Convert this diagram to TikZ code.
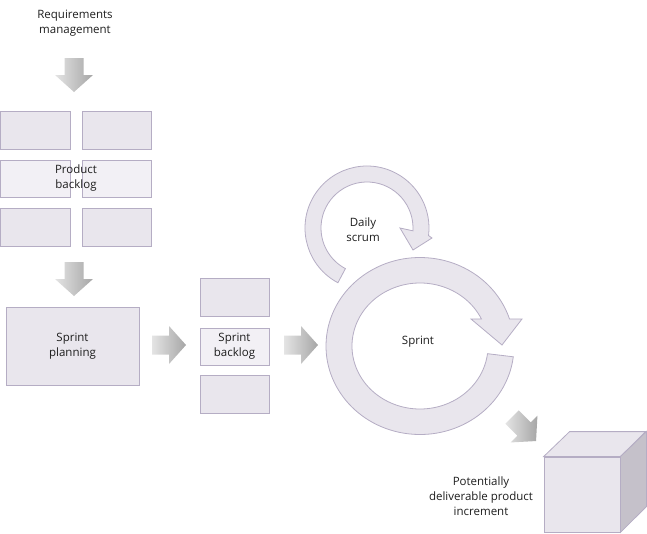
\documentclass[tikz,border=0pt]{standalone}
\usepackage{fontspec}
\setmainfont{Open Sans}
\usetikzlibrary{positioning,calc}

\definecolor{boxfill}{RGB}{233,230,237}
\definecolor{boxlight}{RGB}{242,240,245}
\definecolor{boxline}{RGB}{181,173,196}
\definecolor{cubeside}{RGB}{197,193,202}
\definecolor{arrlight}{RGB}{228,228,228}
\definecolor{arrdark}{RGB}{166,166,166}
\definecolor{txt}{RGB}{30,30,30}

% block arrows: down and right, origin at the middle of the tail
\newcommand{\downarr}[2]{\path[blockarr,shift={(#1,#2)}] (-9.5,0) -- (9.5,0) -- (9.5,17) -- (19,17) -- (0,34) -- (-19,17) -- (-9.5,17) -- cycle;}
\newcommand{\rightarr}[3]{\path[blockarr,shift={(#1,#2)},rotate=#3] (0,-9.5) -- (17,-9.5) -- (17,-19) -- (34,0) -- (17,19) -- (17,9.5) -- (0,9.5) -- cycle;}

\begin{document}
\begin{tikzpicture}[x=1pt,y=-1pt,
			font=\fontsize{11.5}{15}\selectfont, text=txt,
			box/.style={rectangle,draw=boxline,fill=boxfill,line width=0.8pt,inner sep=0pt},
			lightbox/.style={box,fill=boxlight},
			lbl/.style={align=center,inner sep=0pt},
			blockarr/.style={left color=arrlight,right color=arrdark,draw=none},
			ring/.style={fill=boxfill,draw=boxline,line width=0.8pt}]
		\useasboundingbox (0,0) rectangle (647,533);
		% product backlog
		\path 	(75,23.5) 	node 	(req) [lbl] {Requirements\\management}
		        (35.25,130) 	node 	(pb1) [box, minimum width=69.5, minimum height=38] {}
		        (116.5,130) 	node 	(pb2) [box, minimum width=69, minimum height=38] {}
		        (35.25,178.5) 	node 	(pb3) [lightbox, minimum width=69.5, minimum height=37] {}
		        (116.5,178.5) 	node 	(pb4) [lightbox, minimum width=69, minimum height=37] {}
		        (35.25,227) 	node 	(pb5) [box, minimum width=69.5, minimum height=38] {}
		        (116.5,227) 	node 	(pb6) [box, minimum width=69, minimum height=38] {}
		        (76,178) 	node 	(pbl) [lbl] {Product\\backlog};
		% sprint planning and sprint backlog
		\path 	(72.5,346) 	node 	(plan) [box, minimum width=133, minimum height=78, align=center] {Sprint\\planning}
		        (234.5,297) 	node 	(sb1) [box, minimum width=69, minimum height=38] {}
		        (234.5,346.5) 	node 	(sb2) [lightbox, minimum width=69, minimum height=37, align=center] {Sprint\\backlog}
		        (234.5,394) 	node 	(sb3) [box, minimum width=69, minimum height=38] {};
		\downarr{74}{58}
		\downarr{74}{262}
		\rightarr{152}{345}{0}
		\rightarr{284}{345}{0}
		\rightarr{512}{417}{-45}
		% sprint ring
		\coordinate (sc) at (420,346);
		\filldraw[ring] ($(sc)+(7:94 and 88.5)$) arc[start angle=7, end angle=342.2, x radius=94, y radius=88.5]
		        -- (522,319) -- (502,345) -- (471,319)
		        -- ($(sc)+(334.6:68 and 63)$) arc[start angle=334.6, end angle=7, x radius=68, y radius=63] -- cycle;
		\node (spr) [lbl] at (418,342) {Sprint};
		% daily scrum ring
		\coordinate (dc) at (367,228);
		\filldraw[ring] ($(dc)+(118:62)$) arc[start angle=118, end angle=367, radius=62]
		        -- (432,238) -- (413,250) -- (400,228)
		        -- ($(dc)+(363.5:46)$) arc[start angle=363.5, end angle=118, radius=46] -- cycle;
		\node (daily) [lbl] at (363,229.5) {Daily\\scrum};
		% increment cube
		\node (cube) [box, minimum width=76, minimum height=75] at (582,494.5) {};
		\filldraw[ring] (cube.north west) -- ++(26,-25) -- ++(76,0) -- (cube.north east) -- cycle;
		\filldraw[ring, fill=cubeside] (cube.north east) -- ++(26,-25) -- ++(0,75) -- (cube.south east) -- cycle;
		\node (inc) [lbl] at (481,496) {Potentially\\deliverable product\\increment};
	\end{tikzpicture}
\end{document}
